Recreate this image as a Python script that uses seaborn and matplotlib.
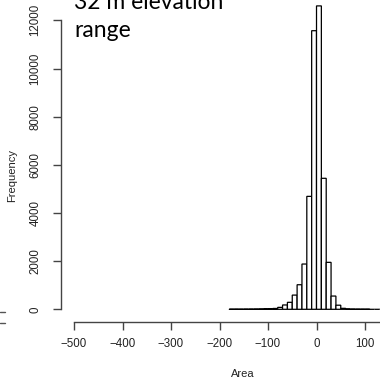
import numpy as np
import pandas as pd
import matplotlib
matplotlib.use("Agg")
import matplotlib.pyplot as plt
import seaborn as sns
from matplotlib.lines import Line2D

# histogram of elevation-change "Area" values, bins of width 10
bin_edges = list(range(-180, 260, 10))
bin_counts = [1, 2, 1, 3, 4, 6, 9, 14, 20, 35, 80, 180, 290, 590, 1020, 1880,
              4690, 11570, 12600, 5440, 1950, 550, 170, 40, 10, 4, 2, 1, 1,
              0, 0, 0, 0, 0, 0, 0, 0, 0, 0, 0, 0, 0, 0]
x_ticks = [-500, -400, -300, -200, -100, 0, 100]
y_ticks = [0, 2000, 4000, 6000, 8000, 10000, 12000]
note = "32 m elevation\nrange"

centers = [(a + b) / 2 for a, b in zip(bin_edges[:-1], bin_edges[1:])]
df = pd.DataFrame({"Area": centers, "count": bin_counts})

sns.set_style("white")
plt.rcParams["font.family"] = ["Liberation Sans", "DejaVu Sans"]

fig = plt.figure(figsize=(3.8, 3.83), dpi=100)
ax = fig.add_axes([61 / 380, 61.3 / 383, 319 / 380, 321.7 / 383])

sns.histplot(data=df, x="Area", weights="count", bins=bin_edges,
             color="white", edgecolor="black", linewidth=0.9, alpha=1,
             ax=ax)
for p in ax.patches:
    p.set_snap(False)

ax.set_xlim(-526.8, 130.9)
ax.set_ylim(-515, 12845)
for side in ["top", "right"]:
    ax.spines[side].set_visible(False)
for side in ["left", "bottom"]:
    ax.spines[side].set_color("#444444")
    ax.spines[side].set_linewidth(1)
ax.spines["left"].set_bounds(0, 12000)
ax.spines["bottom"].set_bounds(-500, 130.9)

ax.set_xticks(x_ticks)
ax.set_yticks(y_ticks)
ax.set_yticklabels([str(v) for v in y_ticks], rotation=90, va="center")
ax.tick_params(axis="both", direction="out", length=6, width=1,
               color="#444444", labelsize=8.3, labelcolor="#222222", pad=6,
               bottom=True, left=True)
ax.tick_params(axis="y", pad=8)

ax.set_xlabel("Area", fontsize=8, color="#222222")
ax.set_ylabel("Frequency", fontsize=8, color="#222222")
ax.xaxis.set_label_coords(0.5705, -0.147)
ax.yaxis.set_label_coords(-0.138, 0.456)

fig.text(74 / 380, 1 - 36.7 / 383, note, fontsize=16.5, family="Lato",
         color="black", ha="left", va="baseline", linespacing=1.38)

# fragments of a neighbouring panel at the far left
for yy in [311.7, 323.3]:
    fig.add_artist(Line2D([0, 5 / 380], [1 - yy / 383, 1 - yy / 383],
                          color="#555555", lw=1, transform=fig.transFigure))

fig.savefig("out.png", dpi=100)
